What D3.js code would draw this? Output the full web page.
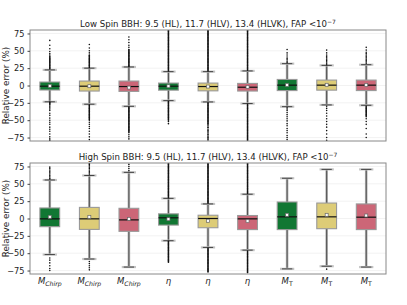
<!DOCTYPE html>
<html>
<head>
<meta charset="utf-8">
<script src="https://cdn.jsdelivr.net/npm/d3@7"></script>
<style>
body { margin:0; background:#fff; }
text { font-family: "DejaVu Sans", sans-serif; }
</style>
</head>
<body>
<div id="chart"></div>
<script>
const svgWidth = 407, svgHeight = 305;
const margin = {left:30, right:21};
const panels = [{top:30, bottom:141}, {top:163, bottom:274}];

const titles = ["Low Spin BBH: 9.5 (HL), 11.7 (HLV), 13.4 (HLVK), FAP ", "High Spin BBH: 9.5 (HL), 11.7 (HLV), 13.4 (HLVK), FAP "];
const params = ["Mc","Mc","Mc","eta","eta","eta","MT","MT","MT"];
const colors = ["#117733","#DDCC77","#CC6677"];
const yticks = [-75,-50,-25,0,25,50,75];

// box stats [whisker low, q1, median, q3, whisker high, mean]
const lowStats = [
  [-23.5,-6.5,-1,5,22.5,-0.5],
  [-27,-8,-1,6.4,25,-1],
  [-30,-8.5,-1.5,6.4,26.7,-3],
  [-21.8,-6.7,-1,3.5,20,-1],
  [-23.7,-7.7,-1.5,3.5,20,-1.5],
  [-26,-8,-2.5,3,21,-2],
  [-30.5,-7.3,0.5,8.7,31.5,0.8],
  [-28,-6.7,0.5,7.8,29,1],
  [-28.5,-7.3,0.5,7.8,30,0.8]
];
const highStats = [
  [-52,-11.8,-0.5,15.2,55.5,2.4],
  [-58.4,-15.7,-0.5,16,62,2.4],
  [-70,-18.5,-2,14.7,66.5,-0.5],
  [-32,-9.5,1,6.7,29,-1],
  [-41.7,-13.3,0,4.7,21,-3.3],
  [-45.6,-16,-0.5,4.3,35,-3.8],
  [-72.6,-16,2.4,23.8,58,5.3],
  [-68.8,-14.7,2.4,22.3,70.8,5.3],
  [-70,-16,1.9,21,70.8,4.3]
];

// outlier values
const lowOutliers = [
  [24,25,26,27,28,29,30,31,32,33,34,35,36,37,38,39,40,41,42,44,46,49,53,58,65,
   -24,-25,-26,-27,-28,-30,-32,-34,-36,-40,-43,-47,-50,-53,-56,-60,-63,-66,-70,-74,-77,-79],
  [26,27,28,29,30,31,32,33,34,35,36,37,38,39,40,41,42,43,44,47,50,54,59,
   -28,-29,-30,-31,-32,-33,-34,-35,-36,-37,-38,-39,-40,-41,-42,-43,-44,-45,-46,-47,-48,-49,-50,-53,-56,-59,-62,-66,-70,-74,-78],
  [27,28,29,30,31,32,33,34,35,36,37,38,39,40,41,42,43,44,45,46,47,48,49,50,51,52,55,58,62,66,70,
   -31,-32,-33,-34,-35,-36,-37,-38,-39,-40,-41,-42,-43,-44,-45,-46,-47,-48,-49,-50,-51,-52,-53,-54,-55,-56,-57,-58,-59,-60,-61,-62,-63,-64,-65,-66,-67,-68,-71,-74,-77],
  [21,22,23,24,25,26,27,28,29,30,31,32,33,34,35,36,37,38,39,40,41,42,43,44,45,46,47,48,49,50,51,52,53,54,55,56,57,58,59,60,61,62,63,64,65,66,67,68,69,70,71,72,73,74,75,76,77,78,79,80,
   -23,-24,-25,-26,-27,-28,-29,-30,-31,-32,-33,-34,-35,-36,-37,-38,-39,-40,-41,-42,-43,-44,-45,-46,-47,-48,-49,-50,-52,-55],
  [21,22,23,24,25,26,27,28,29,30,31,32,33,34,35,36,37,38,39,40,41,42,43,44,45,46,47,48,49,50,51,52,53,54,55,56,57,58,59,60,61,62,63,64,65,66,67,68,69,70,71,72,73,74,75,76,77,78,79,80,
   -25,-26,-27,-28,-29,-30,-31,-32,-33,-34,-35,-36,-37,-38,-39,-40,-41,-42,-43,-44,-45,-46,-47,-48,-49,-50,-51,-52,-53,-54,-55,-56,-58,-60,-61,-63,-65,-66,-68,-70,-71,-73,-75,-76,-78,-80],
  [22,23,24,25,26,27,28,29,30,31,32,33,34,35,36,37,38,39,40,41,42,43,44,45,46,47,48,49,50,51,52,53,54,55,56,57,58,59,60,61,62,63,64,65,66,67,68,69,70,71,72,73,74,75,76,77,78,79,80,
   -27,-28,-29,-30,-31,-32,-33,-34,-35,-36,-37,-38,-39,-40,-41,-42,-43,-44,-45,-46,-47,-48,-49,-50,-51,-52,-53,-54,-55,-56,-57,-58,-59,-60,-61,-62,-63,-64,-65,-66,-67,-68,-69,-70,-71,-72,-73,-74,-75,-76,-77,-78,-79,-80],
  [33,35,37,39,41,44,47,52,
   -32,-34,-36,-39,-42,-45,-48,-51,-55,-58,-62,-65,-68,-72,-75,-78],
  [30,32,34,36,38,40,42,44,47,51,
   -30,-33,-36,-40,-44,-48,-52,-56,-60,-65,-70,-75,-79],
  [32,34,36,38,40,42,44,46,48,51,55,
   -30,-31,-32,-33,-34,-35,-36,-37,-38,-39,-40,-41,-42,-43,-44,-45,-48,-52,-56,-62,-70,-75]
];
const highOutliers = [
  [57,58,60,62,64,66,68,70,72,74, -57,-60,-64,-68,-72,-75],
  [64,66,68,70,72,74,76,78,79, -62,-65,-68,-71,-74],
  [69,72,75,78],
  [30,31,32,33,34,35,36,37,38,39,40,41,42,43,44,45,46,47,48,49,50,51,52,53,54,55,56,57,58,59,60,61,62,63,64,65,66,67,68,69,70,71,72,73,74,75,76,77,78,79,80,
   -33,-34,-35,-36,-37,-38,-39,-40,-41,-42,-43,-44,-45,-46,-47,-48,-49,-50,-51,-52,-53,-54,-55,-56,-57,-58,-59,-60,-61,-62,-63],
  [22,23,24,25,26,27,28,29,30,31,32,33,34,35,36,37,38,39,40,41,42,43,44,45,46,47,48,49,50,51,52,53,54,55,56,57,58,59,60,61,62,63,64,65,66,67,68,69,70,71,72,73,74,75,76,77,78,79,80,
   -43,-44,-45,-46,-47,-48,-49,-50,-51,-52,-53,-54,-55,-56,-57,-58,-59,-60,-61,-62,-63,-64,-65,-66,-67,-68,-69,-70,-71,-72,-73,-74,-75,-76,-77],
  [36,37,38,39,40,41,42,43,44,45,46,47,48,49,50,51,52,53,54,55,56,57,58,59,60,61,62,63,64,65,66,67,68,69,70,71,72,73,74,75,76,77,78,79,80,
   -47,-48,-49,-50,-51,-52,-53,-54,-55,-56,-57,-58,-59,-60,-61,-62,-63,-64,-65,-66,-67,-68,-69,-70,-71,-72,-73,-74,-75,-76,-77,-78],
  [],
  [-73],
  []
];

const svg = d3.select("#chart").append("svg")
  .attr("width", svgWidth).attr("height", svgHeight);

const xscale = d3.scaleBand()
  .domain(d3.range(params.length))
  .range([margin.left, svgWidth - margin.right])
  .paddingInner(0).paddingOuter(0);

const boxW = xscale.bandwidth() * 0.5;
const capW = xscale.bandwidth() * 0.26;

function drawPanel(p, stats, outliers, title, showX) {
  const yscale = d3.scaleLinear().domain([-80, 80]).range([p.bottom, p.top]);
  const g = svg.append("g");

  // gridlines
  g.selectAll(".grid").data(yticks).enter().append("line")
    .attr("x1", margin.left).attr("x2", svgWidth - margin.right)
    .attr("y1", d => yscale(d)).attr("y2", d => yscale(d))
    .attr("stroke", "#efefef").attr("stroke-width", 0.8);

  const clipId = "clip" + p.top;
  svg.append("clipPath").attr("id", clipId).append("rect")
    .attr("x", margin.left).attr("y", p.top)
    .attr("width", svgWidth - margin.right - margin.left).attr("height", p.bottom - p.top);

  const plot = g.append("g").attr("clip-path", "url(#" + clipId + ")");

  stats.forEach(function(s, i) {
    const cx = xscale(i) + xscale.bandwidth() / 2;
    const col = colors[i % 3];
    // whiskers: gray halo then black core
    [[s[0], s[1]], [s[3], s[4]]].forEach(function(w) {
      plot.append("line").attr("x1", cx).attr("x2", cx)
        .attr("y1", yscale(w[0])).attr("y2", yscale(w[1]))
        .attr("stroke", "#b3b3b3").attr("stroke-width", 2.6);
      plot.append("line").attr("x1", cx).attr("x2", cx)
        .attr("y1", yscale(w[0])).attr("y2", yscale(w[1]))
        .attr("stroke", "#333").attr("stroke-width", 0.8);
    });
    // caps
    [s[0], s[4]].forEach(function(v) {
      plot.append("line").attr("x1", cx - capW / 2 - 2).attr("x2", cx + capW / 2 + 2)
        .attr("y1", yscale(v)).attr("y2", yscale(v))
        .attr("stroke", "#c4c4c4").attr("stroke-width", 2.2);
      plot.append("line").attr("x1", cx - capW / 2).attr("x2", cx + capW / 2)
        .attr("y1", yscale(v)).attr("y2", yscale(v))
        .attr("stroke", "#333").attr("stroke-width", 0.9);
    });
    // outliers
    plot.selectAll(".o" + i).data(outliers[i]).enter().append("circle")
      .attr("cx", cx).attr("cy", d => yscale(d)).attr("r", 0.8)
      .attr("fill", "#111");
    // box
    plot.append("rect")
      .attr("x", cx - boxW / 2).attr("width", boxW)
      .attr("y", yscale(s[3])).attr("height", yscale(s[1]) - yscale(s[3]))
      .attr("fill", col).attr("stroke", "#999").attr("stroke-width", 1.1);
    // median
    plot.append("line").attr("x1", cx - boxW / 2).attr("x2", cx + boxW / 2)
      .attr("y1", yscale(s[2])).attr("y2", yscale(s[2]))
      .attr("stroke", "#111").attr("stroke-width", 1.2);
    // mean marker
    plot.append("rect")
      .attr("x", cx - 1.5).attr("y", yscale(s[5]) - 1.5)
      .attr("width", 3).attr("height", 3)
      .attr("fill", "#fff").attr("stroke", "#666").attr("stroke-width", 0.7);
  });

  // frame
  g.append("rect")
    .attr("x", margin.left).attr("y", p.top)
    .attr("width", svgWidth - margin.right - margin.left).attr("height", p.bottom - p.top)
    .attr("fill", "none").attr("stroke", "#888").attr("stroke-width", 1);

  // y axis
  const yaxis = d3.axisLeft(yscale).tickValues(yticks).tickSize(2.5)
    .tickFormat(d => d < 0 ? "\u2212" + Math.abs(d) : d);
  const ax = g.append("g").attr("transform", "translate(" + margin.left + ",0)").call(yaxis);
  ax.select(".domain").remove();
  ax.selectAll("line").attr("stroke", "#444");
  ax.selectAll("text").attr("font-size", 8.2).attr("fill", "#222")
    .style("font-family", "DejaVu Sans");

  // y label
  g.append("text")
    .attr("transform", "translate(9," + ((p.top + p.bottom) / 2) + ")rotate(-90)")
    .attr("text-anchor", "middle").attr("font-size", 8.8).attr("fill", "#222")
    .text("Relative error (%)");

  // title
  const t = g.append("text")
    .attr("x", (margin.left + svgWidth - margin.right) / 2).attr("y", p.top - 3)
    .attr("text-anchor", "middle").attr("font-size", 8.6).attr("fill", "#222");
  t.append("tspan").text(title);
  t.append("tspan").text("<10");
  t.append("tspan").attr("dy", -3.5).attr("font-size", 6).text("\u22127");

  if (showX) {
    params.forEach(function(pn, i) {
      const cx = xscale(i) + xscale.bandwidth() / 2;
      const lt = g.append("text").attr("x", cx).attr("y", p.bottom + 9.5)
        .attr("text-anchor", "middle").attr("font-size", 8.5).attr("fill", "#222")
        .attr("font-style", "italic");
      if (pn === "Mc") {
        lt.append("tspan").text("M");
        lt.append("tspan").attr("dy", 2).attr("font-size", 6.2).text("Chirp");
      } else if (pn === "eta") {
        lt.append("tspan").text("\u03b7");
      } else {
        lt.append("tspan").text("M");
        lt.append("tspan").attr("dy", 2).attr("font-size", 6.2).attr("font-style", "normal").text("T");
      }
    });
  }
}

drawPanel(panels[0], lowStats, lowOutliers, titles[0], false);
drawPanel(panels[1], highStats, highOutliers, titles[1], true);
</script>
</body>
</html>
